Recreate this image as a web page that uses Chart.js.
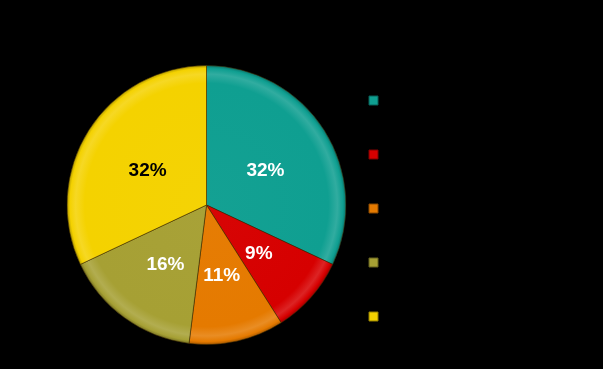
<!DOCTYPE html>
<html>
<head>
<meta charset="utf-8">
<script src="https://cdn.jsdelivr.net/npm/chart.js@4/dist/chart.umd.min.js"></script>
<style>
  html, body { margin: 0; padding: 0; background: #000; }
  #wrap { width: 603px; height: 369px; }
</style>
</head>
<body>
<div id="wrap"><canvas id="pie" width="603" height="369"></canvas></div>
<script>
// Share of each category, in percent
const categories = ['Category 1', 'Category 2', 'Category 3', 'Category 4', 'Category 5'];
const shares = [32, 9, 11, 16, 32];
const sliceColors = ['#0f9f91', '#d60000', '#e57a00', '#a6a034', '#f4d200'];
const labelColors = ['#ffffff', '#ffffff', '#ffffff', '#ffffff', '#000000'];

function shade(hex, amt) {
  const n = parseInt(hex.slice(1), 16);
  let r = (n >> 16) & 255, g = (n >> 8) & 255, b = n & 255;
  const f = c => Math.max(0, Math.min(255, Math.round(amt >= 0 ? c + (255 - c) * amt : c * (1 + amt))));
  return `rgb(${f(r)},${f(g)},${f(b)})`;
}

// Radial bevel: flat body, a light band near the rim and a darker outer edge
function bevelFill(ctx) {
  const chart = ctx.chart;
  const a = chart.chartArea;
  const base = sliceColors[ctx.dataIndex];
  if (!a) return base;
  const cx = (a.left + a.right) / 2, cy = (a.top + a.bottom) / 2;
  const r = Math.min(a.right - a.left, a.bottom - a.top) / 2;
  const g = chart.ctx.createRadialGradient(cx, cy, 0, cx, cy, r);
  g.addColorStop(0, shade(base, 0.02));
  g.addColorStop(0.87, base);
  g.addColorStop(0.935, shade(base, 0.14));
  g.addColorStop(0.975, base);
  g.addColorStop(1, shade(base, -0.3));
  return g;
}

// Percentage text placed halfway along each slice
const sliceLabels = {
  id: 'sliceLabels',
  afterDatasetsDraw(chart) {
    const ctx = chart.ctx;
    const meta = chart.getDatasetMeta(0);
    ctx.save();
    ctx.font = 'bold 19px "Liberation Sans", Arial, sans-serif';
    ctx.textAlign = 'center';
    ctx.textBaseline = 'middle';
    meta.data.forEach((arc, i) => {
      const p = arc.tooltipPosition();
      ctx.fillStyle = labelColors[i];
      ctx.fillText(shares[i] + '%', p.x, p.y + 3);
    });
    ctx.restore();
  }
};

new Chart(document.getElementById('pie'), {
  type: 'pie',
  data: {
    labels: categories,
    datasets: [{
      data: shares,
      backgroundColor: bevelFill,
      borderColor: 'rgba(60,40,0,0.55)',
      borderWidth: 1
    }]
  },
  options: {
    responsive: false,
    animation: false,
    devicePixelRatio: 1,
    layout: { padding: { top: 46, bottom: 5, left: 66.5, right: 136.5 } },
    plugins: {
      tooltip: { enabled: false },
      legend: {
        position: 'right',
        align: 'center',
        maxWidth: 120,
        title: {
          display: true,
          text: '',
          padding: 0,
          font: { size: 7, lineHeight: 1 }
        },
        labels: {
          boxWidth: 9,
          boxHeight: 9,
          padding: 22.5,
          color: '#000000',
          font: { size: 31.5, family: '"Liberation Sans", Arial, sans-serif' },
          generateLabels(chart) {
            return categories.map((c, i) => ({
              text: c,
              fillStyle: sliceColors[i],
              strokeStyle: shade(sliceColors[i], -0.4),
              lineWidth: 1,
              fontColor: '#000000',
              hidden: false,
              index: i
            }));
          }
        }
      }
    }
  },
  plugins: [sliceLabels]
});
</script>
</body>
</html>
